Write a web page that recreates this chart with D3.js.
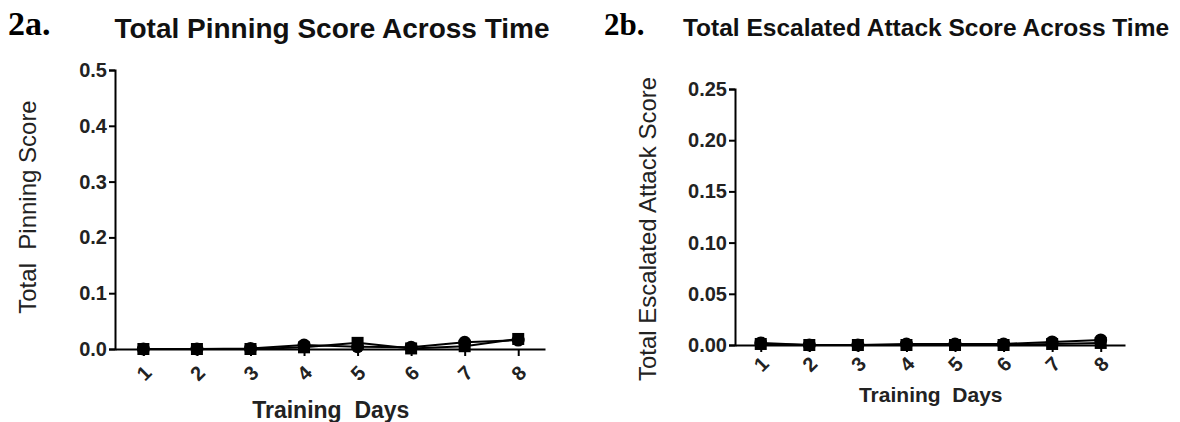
<!DOCTYPE html>
<html>
<head>
<meta charset="utf-8">
<script src="https://cdn.jsdelivr.net/npm/d3@7"></script>
<style>
  body { margin: 0; background: #fff; }
  svg { display: block; }
</style>
</head>
<body>
<div id="chart"></div>
<script>
// Training days on the x axis
var days = [1, 2, 3, 4, 5, 6, 7, 8];

// 2a. Total pinning score (two groups: circles and squares)
var pinCircle = [0.000, 0.000, 0.001, 0.007, 0.004, 0.003, 0.012, 0.016];
var pinSquare = [0.000, 0.000, 0.000, 0.003, 0.011, 0.001, 0.005, 0.018];
var pinTicks = [0.0, 0.1, 0.2, 0.3, 0.4, 0.5];

// 2b. Total escalated attack score
var attackCircle = [0.002, 0.000, 0.000, 0.001, 0.001, 0.001, 0.003, 0.005];
var attackSquare = [0.001, 0.000, 0.000, 0.000, 0.000, 0.000, 0.001, 0.002];
var attackTicks = [0.00, 0.05, 0.10, 0.15, 0.20, 0.25];

var svgWidth = 1180;
var svgHeight = 422;
var sans = "Liberation Sans, Arial, sans-serif";

var svg = d3.select("#chart")
  .append("svg")
  .attr("width", svgWidth)
  .attr("height", svgHeight);

// Panel layout (pixel frames of each plot area)
var panels = [
  {
    tag: "2a.", tagX: 8, tagSize: 34,
    title: "Total Pinning Score Across Time", titleX: 332, titleSize: 28, titleY: 38,
    yLabel: "Total  Pinning Score", yLabelX: 28, yLabelY: 207, yLabelSize: 24,
    xLabelSize: 23, xLabelY: 418, tickY: 24,
    left: 115, right: 545, top: 70, bottom: 349,
    yMax: 0.5, ticks: pinTicks, fmt: d3.format(".1f"),
    circle: pinCircle, square: pinSquare
  },
  {
    tag: "2b.", tagX: 604, tagSize: 31,
    title: "Total Escalated Attack Score Across Time", titleX: 926, titleSize: 24.5, titleY: 36,
    yLabel: "Total Escalated Attack Score", yLabelX: 648, yLabelY: 229, yLabelSize: 24,
    xLabelSize: 21, xLabelY: 402, tickY: 19,
    left: 735, right: 1125, top: 89, bottom: 345,
    yMax: 0.25, ticks: attackTicks, fmt: d3.format(".2f"),
    circle: attackCircle, square: attackSquare
  }
];

panels.forEach(function(p) {
  var g = svg.append("g");

  var xScale = d3.scaleLinear()
    .domain([0.47, 8.5])
    .range([p.left, p.right]);

  var yScale = d3.scaleLinear()
    .domain([0, p.yMax])
    .range([p.bottom, p.top]);

  // panel tag and title
  g.append("text")
    .attr("x", p.tagX)
    .attr("y", 35)
    .attr("font-family", "Liberation Serif, Times New Roman, serif")
    .attr("font-weight", "bold")
    .attr("font-size", p.tagSize + "px")
    .text(p.tag);

  g.append("text")
    .attr("x", p.titleX)
    .attr("y", p.titleY)
    .attr("text-anchor", "middle")
    .attr("font-family", sans)
    .attr("font-weight", "bold")
    .attr("font-size", p.titleSize + "px")
    .attr("fill", "#111")
    .text(p.title);

  // y axis
  var leftAxis = d3.axisLeft(yScale)
    .tickValues(p.ticks)
    .tickFormat(p.fmt)
    .tickSize(6)
    .tickPadding(2);

  var yAxisG = g.append("g")
    .attr("transform", `translate(${p.left}, 0)`)
    .call(leftAxis);
  yAxisG.select(".domain").attr("stroke-width", 2);
  yAxisG.selectAll(".tick line").attr("stroke-width", 2);
  yAxisG.selectAll(".tick text")
    .attr("font-family", sans)
    .attr("font-weight", "bold")
    .attr("font-size", "20px")
    .attr("fill", "#222");

  // x axis
  var bottomAxis = d3.axisBottom(xScale)
    .tickValues(days)
    .tickFormat(d3.format("d"))
    .tickSizeInner(7)
    .tickSizeOuter(0);

  var xAxisG = g.append("g")
    .attr("transform", `translate(0, ${p.bottom})`)
    .call(bottomAxis);
  xAxisG.select(".domain").attr("stroke-width", 2);
  xAxisG.selectAll(".tick line").attr("stroke-width", 2);
  xAxisG.selectAll(".tick text")
    .attr("font-family", sans)
    .attr("font-weight", "bold")
    .attr("font-size", "20px")
    .attr("fill", "#222")
    .attr("y", 0)
    .attr("dy", "0.35em")
    .attr("transform", `translate(0, ${p.tickY}) rotate(-45)`);

  // axis titles
  g.append("text")
    .attr("x", (xScale(1) + xScale(8)) / 2)
    .attr("y", p.xLabelY)
    .attr("text-anchor", "middle")
    .attr("font-family", sans)
    .attr("font-weight", "bold")
    .attr("font-size", p.xLabelSize + "px")
    .attr("fill", "#222")
    .attr("xml:space", "preserve")
    .text("Training  Days");

  g.append("text")
    .attr("transform", `translate(${p.yLabelX}, ${p.yLabelY}) rotate(-90)`)
    .attr("text-anchor", "middle")
    .attr("dy", "0.35em")
    .attr("font-family", sans)
    .attr("font-size", p.yLabelSize + "px")
    .attr("fill", "#222")
    .attr("xml:space", "preserve")
    .text(p.yLabel);

  // lines
  var line = d3.line()
    .x(function(d, i) { return xScale(days[i]); })
    .y(function(d) { return yScale(d); });

  [p.circle, p.square].forEach(function(series) {
    g.append("path")
      .datum(series)
      .attr("d", line)
      .attr("fill", "none")
      .attr("stroke", "#000")
      .attr("stroke-width", 2);
  });

  // square markers
  g.append("g")
    .selectAll("rect")
    .data(p.square)
    .enter()
    .append("rect")
    .attr("x", function(d, i) { return xScale(days[i]) - 6; })
    .attr("y", function(d) { return yScale(d) - 6; })
    .attr("width", 12)
    .attr("height", 12)
    .attr("fill", "#000");

  // circle markers
  g.append("g")
    .selectAll("circle")
    .data(p.circle)
    .enter()
    .append("circle")
    .attr("cx", function(d, i) { return xScale(days[i]); })
    .attr("cy", function(d) { return yScale(d); })
    .attr("r", 6.5)
    .attr("fill", "#000");
});
</script>
</body>
</html>
